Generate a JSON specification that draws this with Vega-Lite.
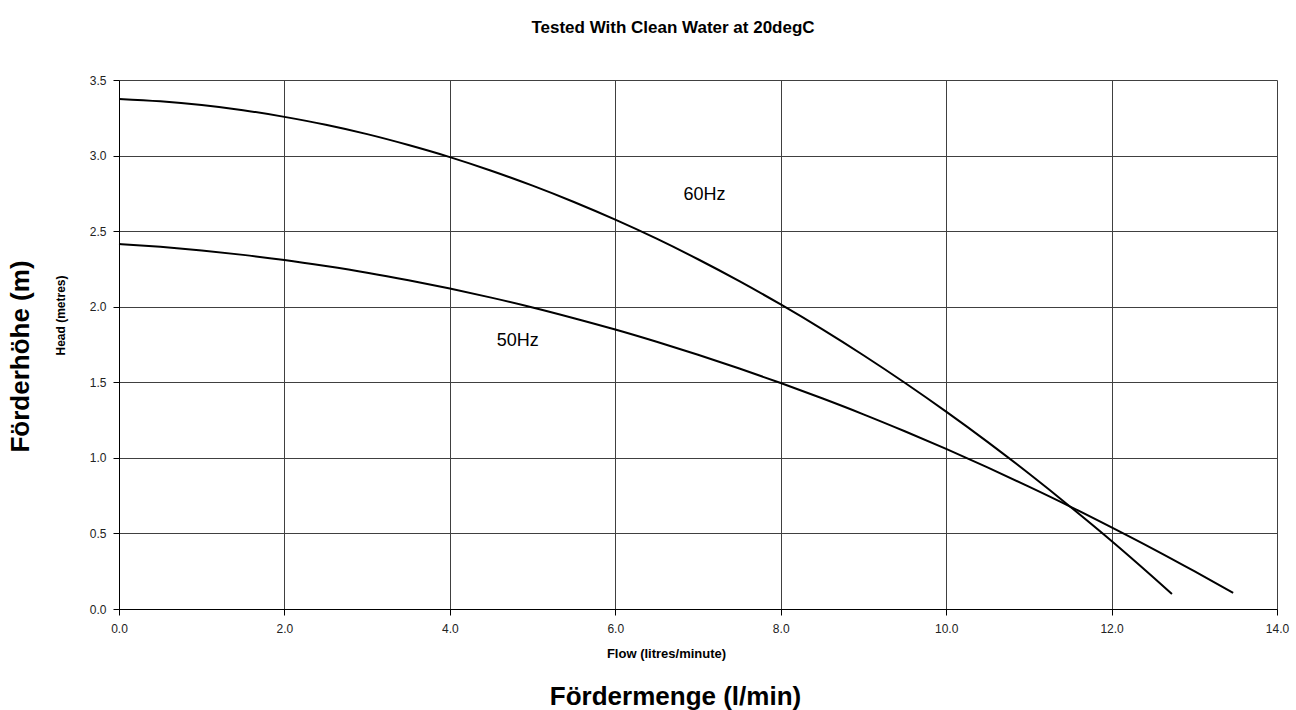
{
  "$schema": "https://vega.github.io/schema/vega-lite/v6.json",
  "width": 1158,
  "height": 529,
  "autosize": "none",
  "padding": {"left": 119, "top": 80, "right": 19, "bottom": 101},
  "background": "white",
  "title": {
    "text": "Tested With Clean Water at 20degC",
    "font": "Liberation Sans",
    "fontSize": 17,
    "fontWeight": "bold",
    "color": "black",
    "anchor": "middle",
    "frame": "group",
    "dx": -25,
    "offset": 37
  },
  "config": {
    "view": {"stroke": null},
    "font": "Liberation Sans"
  },
  "datasets": {
    "curves": [
      {"series": "60Hz", "flow": 0, "head": 3.375},
      {"series": "60Hz", "flow": 0.5, "head": 3.359},
      {"series": "60Hz", "flow": 1, "head": 3.334},
      {"series": "60Hz", "flow": 1.5, "head": 3.3},
      {"series": "60Hz", "flow": 2, "head": 3.256},
      {"series": "60Hz", "flow": 2.5, "head": 3.204},
      {"series": "60Hz", "flow": 3, "head": 3.142},
      {"series": "60Hz", "flow": 3.5, "head": 3.07},
      {"series": "60Hz", "flow": 4, "head": 2.99},
      {"series": "60Hz", "flow": 4.5, "head": 2.9},
      {"series": "60Hz", "flow": 5, "head": 2.801},
      {"series": "60Hz", "flow": 5.5, "head": 2.693},
      {"series": "60Hz", "flow": 6, "head": 2.576},
      {"series": "60Hz", "flow": 6.5, "head": 2.45},
      {"series": "60Hz", "flow": 7, "head": 2.314},
      {"series": "60Hz", "flow": 7.5, "head": 2.169},
      {"series": "60Hz", "flow": 8, "head": 2.015},
      {"series": "60Hz", "flow": 8.5, "head": 1.852},
      {"series": "60Hz", "flow": 9, "head": 1.679},
      {"series": "60Hz", "flow": 9.5, "head": 1.497},
      {"series": "60Hz", "flow": 10, "head": 1.306},
      {"series": "60Hz", "flow": 10.5, "head": 1.106},
      {"series": "60Hz", "flow": 11, "head": 0.896},
      {"series": "60Hz", "flow": 11.5, "head": 0.677},
      {"series": "60Hz", "flow": 12, "head": 0.45},
      {"series": "60Hz", "flow": 12.5, "head": 0.212},
      {"series": "60Hz", "flow": 12.73, "head": 0.1},
      {"series": "50Hz", "flow": 0, "head": 2.415},
      {"series": "50Hz", "flow": 0.5, "head": 2.396},
      {"series": "50Hz", "flow": 1, "head": 2.372},
      {"series": "50Hz", "flow": 1.5, "head": 2.343},
      {"series": "50Hz", "flow": 2, "head": 2.309},
      {"series": "50Hz", "flow": 2.5, "head": 2.269},
      {"series": "50Hz", "flow": 3, "head": 2.225},
      {"series": "50Hz", "flow": 3.5, "head": 2.175},
      {"series": "50Hz", "flow": 4, "head": 2.12},
      {"series": "50Hz", "flow": 4.5, "head": 2.06},
      {"series": "50Hz", "flow": 5, "head": 1.995},
      {"series": "50Hz", "flow": 5.5, "head": 1.924},
      {"series": "50Hz", "flow": 6, "head": 1.849},
      {"series": "50Hz", "flow": 6.5, "head": 1.768},
      {"series": "50Hz", "flow": 7, "head": 1.682},
      {"series": "50Hz", "flow": 7.5, "head": 1.591},
      {"series": "50Hz", "flow": 8, "head": 1.495},
      {"series": "50Hz", "flow": 8.5, "head": 1.394},
      {"series": "50Hz", "flow": 9, "head": 1.288},
      {"series": "50Hz", "flow": 9.5, "head": 1.176},
      {"series": "50Hz", "flow": 10, "head": 1.059},
      {"series": "50Hz", "flow": 10.5, "head": 0.937},
      {"series": "50Hz", "flow": 11, "head": 0.81},
      {"series": "50Hz", "flow": 11.5, "head": 0.678},
      {"series": "50Hz", "flow": 12, "head": 0.54},
      {"series": "50Hz", "flow": 12.5, "head": 0.398},
      {"series": "50Hz", "flow": 13, "head": 0.25},
      {"series": "50Hz", "flow": 13.47, "head": 0.107}
    ],
    "labels": [
      {"label": "60Hz", "flow": 7.08, "head": 2.74},
      {"label": "50Hz", "flow": 4.82, "head": 1.77}
    ]
  },
  "layer": [
    {
      "data": {"name": "curves"},
      "mark": {"type": "line", "color": "black", "strokeWidth": 2, "interpolate": "monotone"},
      "encoding": {
        "x": {
          "field": "flow",
          "type": "quantitative",
          "scale": {"domain": [0, 14], "nice": false, "zero": false},
          "axis": {
            "orient": "bottom",
            "values": [0, 2, 4, 6, 8, 10, 12, 14],
            "format": ".1f",
            "labelFont": "Liberation Sans",
            "labelFontSize": 12,
            "labelColor": "#222222",
            "labelPadding": 8,
            "labelFlush": false,
            "tickSize": 6,
            "tickColor": "black",
            "domainColor": "black",
            "grid": true,
            "gridColor": "#404040",
            "gridWidth": 1,
            "title": "Flow (litres/minute)",
            "titleFont": "Liberation Sans",
            "titleFontSize": 13,
            "titleFontWeight": "bold",
            "titleColor": "black",
            "titleX": 547,
            "titleY": 48,
            "titleAlign": "center",
            "titleBaseline": "alphabetic"
          }
        },
        "y": {
          "field": "head",
          "type": "quantitative",
          "scale": {"domain": [0, 3.5], "nice": false},
          "axis": {
            "orient": "left",
            "values": [0, 0.5, 1, 1.5, 2, 2.5, 3, 3.5],
            "format": ".1f",
            "labelFont": "Liberation Sans",
            "labelFontSize": 12,
            "labelColor": "#222222",
            "labelPadding": 7,
            "labelFlush": false,
            "tickSize": 6,
            "tickColor": "black",
            "domainColor": "black",
            "grid": true,
            "gridColor": "#404040",
            "gridWidth": 1,
            "title": "Head (metres)",
            "titleFont": "Liberation Sans",
            "titleFontSize": 12,
            "titleFontWeight": "bold",
            "titleColor": "black",
            "titleAngle": -90,
            "titleX": -55,
            "titleY": 235,
            "titleAlign": "center",
            "titleBaseline": "alphabetic"
          }
        },
        "detail": {"field": "series"}
      }
    },
    {
      "data": {"name": "labels"},
      "mark": {"type": "text", "font": "Liberation Sans", "fontSize": 18, "color": "black", "align": "center", "baseline": "middle"},
      "encoding": {
        "x": {
          "field": "flow",
          "type": "quantitative",
          "axis": {
            "orient": "bottom",
            "labels": false,
            "ticks": false,
            "domain": false,
            "grid": false,
            "title": "Fördermenge (l/min)",
            "titleFont": "Liberation Sans",
            "titleFontSize": 26,
            "titleFontWeight": "bold",
            "titleColor": "black",
            "titleX": 556,
            "titleY": 95,
            "titleAlign": "center",
            "titleBaseline": "alphabetic"
          }
        },
        "y": {
          "field": "head",
          "type": "quantitative",
          "axis": {
            "orient": "left",
            "labels": false,
            "ticks": false,
            "domain": false,
            "grid": false,
            "title": "Förderhöhe (m)",
            "titleFont": "Liberation Sans",
            "titleFontSize": 26,
            "titleFontWeight": "bold",
            "titleColor": "black",
            "titleAngle": -90,
            "titleX": -91,
            "titleY": 276,
            "titleAlign": "center",
            "titleBaseline": "alphabetic"
          }
        },
        "text": {"field": "label"}
      }
    }
  ],
  "resolve": {"axis": {"x": "independent", "y": "independent"}}
}
